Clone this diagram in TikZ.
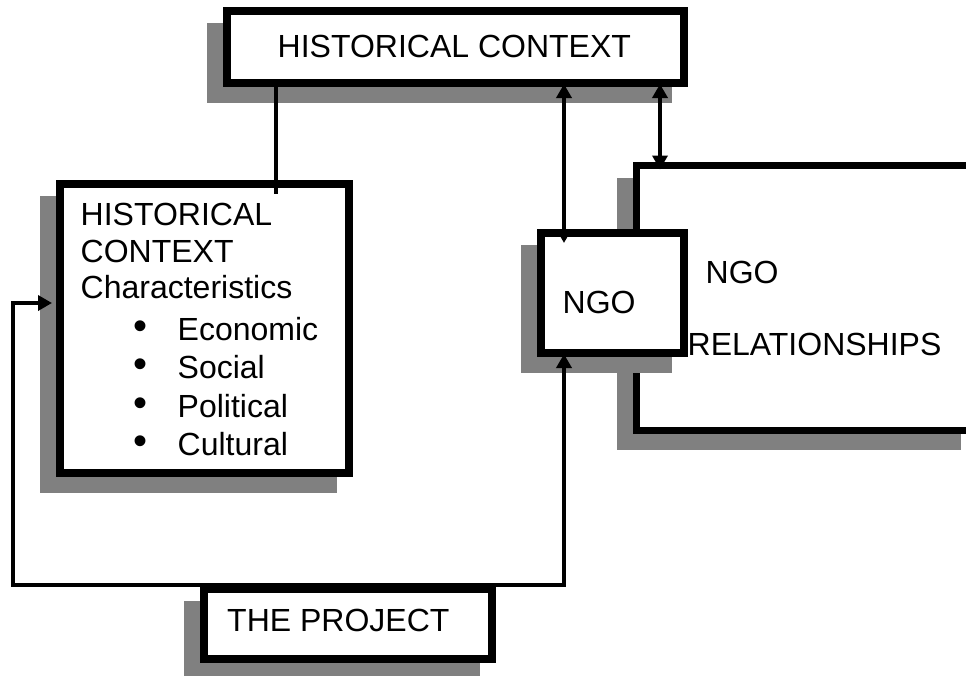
\documentclass[tikz,border=0pt]{standalone}
\usepackage{fontspec}
\setmainfont{Liberation Sans}
\usetikzlibrary{arrows.meta}
\definecolor{shadowgray}{HTML}{808080}
\begin{document}
\begin{tikzpicture}[x=1pt,y=-1pt,
  txt/.style={inner sep=0pt, anchor=base west, font=\fontsize{32}{37}\selectfont},
  dot/.style={inner sep=0pt, anchor=center, font=\fontsize{40}{40}\selectfont},
  framebox/.style={draw=black, fill=white, line width=#1, inner sep=0pt,
    preaction={draw=shadowgray, fill=shadowgray, line width=#1,
      transform canvas={xshift=-16pt, yshift=-16pt}}},
  framebox/.default=8pt,
  conn/.style={line width=3.5pt},
  arrowend/.style={-{Triangle[length=14pt,width=15pt]}},
  arrowboth/.style={{Triangle[length=14pt,width=15pt]}-{Triangle[length=14pt,width=15pt]}}]
\useasboundingbox (0,0) rectangle (966,675);
\clip (0,0) rectangle (966,675);

% boxes, each with its grey drop shadow
\node[framebox, minimum width=457pt, minimum height=72pt] (top) at (455.5,47) {};
\node[framebox, minimum width=289pt, minimum height=289pt] (hc) at (204.5,328.5) {};
\node[framebox=7pt, minimum width=337pt, minimum height=265pt] (rel) at (805,298) {};
\node[framebox, minimum width=143pt, minimum height=120pt] (ngo) at (612.5,293) {};
\node[framebox, minimum width=288pt, minimum height=70pt] (proj) at (348,624) {};

% box labels
\node[txt] (topT) at (277.5,57) {HISTORICAL CONTEXT};
\node[txt] (hc1) at (80.5,225) {HISTORICAL};
\node[txt] (hc2) at (80.5,262) {CONTEXT};
\node[txt] (hc3) at (80.5,298) {Characteristics};
\node[dot] (b1) at (141,330) {\textbullet};
\node[dot] (b2) at (141,368) {\textbullet};
\node[dot] (b3) at (141,407) {\textbullet};
\node[dot] (b4) at (141,445) {\textbullet};
\node[txt] (i1) at (177.5,340) {Economic};
\node[txt] (i2) at (177.5,378) {Social};
\node[txt] (i3) at (177.5,417) {Political};
\node[txt] (i4) at (177.5,455) {Cultural};
\node[txt] (relT1) at (705.5,283) {NGO};
\node[txt] (relT2) at (687.5,355) {RELATIONSHIPS};
\node[txt] (ngoT) at (562.5,313) {NGO};
\node[txt] (projT) at (227,631) {THE PROJECT};

% guide positions for the connectors
\coordinate (xc) at (276,0);
\coordinate (xa) at (564,0);
\coordinate (xb) at (660,0);
\coordinate (xl) at (13,0);
\coordinate (ya) at (0,303);

% connectors
\draw[conn] (top.south -| xc) -- ([yshift=-14pt]hc.north -| xc);
\draw[conn, arrowboth] ([yshift=3pt]top.south -| xa) -- ([yshift=-14pt]ngo.north -| xa);
\draw[conn, arrowboth] ([yshift=3pt]top.south -| xb) -- ([yshift=-7.5pt]rel.north -| xb);
\draw[conn, arrowend] (proj.north) -- (proj.north -| xl) |- ([xshift=-4pt]hc.west |- ya);
\draw[conn, arrowend] (proj.north) -- (proj.north -| xa) -- ([yshift=3pt]ngo.south -| xa);
\end{tikzpicture}
\end{document}
